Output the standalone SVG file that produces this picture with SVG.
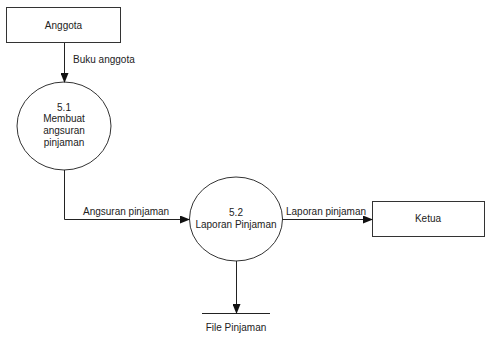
<svg xmlns="http://www.w3.org/2000/svg" width="486" height="343" viewBox="0 0 486 343">
<style>
.s{fill:#fff;stroke:#333;stroke-width:1}
.l{fill:none;stroke:#222;stroke-width:1}
text{font-family:"Liberation Sans",Arial,sans-serif;font-size:10px;fill:#222}
.c{text-anchor:middle}
</style>
<defs>
<marker id="a" markerWidth="10" markerHeight="8" refX="9" refY="4" orient="auto" markerUnits="userSpaceOnUse">
<path d="M0,0 L10,4 L0,8 z" fill="#111"/>
</marker>
</defs>
<rect width="486" height="343" fill="#fff"/>
<g id="anggota">
<rect class="s" x="6.5" y="7.5" width="114" height="35"/>
<text class="c" x="63.5" y="28.5">Anggota</text>
</g>
<g id="p51">
<ellipse class="s" cx="64" cy="126" rx="47" ry="44"/>
<text class="c" x="64" y="111">5.1</text>
<text class="c" x="64" y="122">Membuat</text>
<text class="c" x="64" y="134">angsuran</text>
<text class="c" x="64" y="146">pinjaman</text>
</g>
<g id="p52">
<ellipse class="s" cx="236" cy="219" rx="46.5" ry="42"/>
<text class="c" x="236" y="216">5.2</text>
<text class="c" x="236" y="228">Laporan Pinjaman</text>
</g>
<g id="ketua">
<rect class="s" x="372.5" y="201.5" width="112" height="35"/>
<text class="c" x="428" y="222">Ketua</text>
</g>
<g id="filepinjaman">
<line class="l" x1="202" y1="313.5" x2="270" y2="313.5"/>
<text class="c" x="236" y="331">File Pinjaman</text>
</g>
<g id="connectors">
<line class="l" x1="64.5" y1="43" x2="64.5" y2="82" marker-end="url(#a)"/>
<text x="73" y="63">Buku anggota</text>
<polyline class="l" points="64.5,170 64.5,219.5 189,219.5" marker-end="url(#a)"/>
<text x="83" y="215">Angsuran pinjaman</text>
<line class="l" x1="282.5" y1="219.5" x2="372" y2="219.5" marker-end="url(#a)"/>
<text x="286" y="215">Laporan pinjaman</text>
<line class="l" x1="236.5" y1="261" x2="236.5" y2="313" marker-end="url(#a)"/>
</g>
</svg>
